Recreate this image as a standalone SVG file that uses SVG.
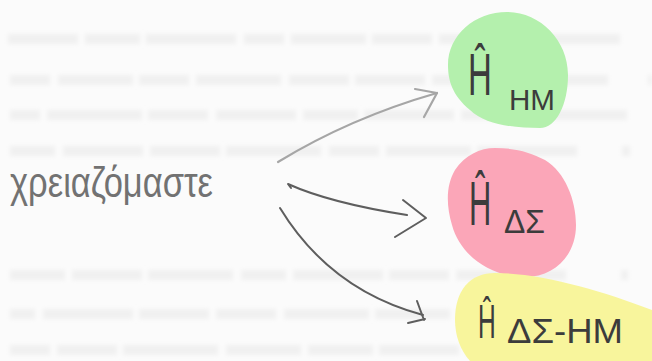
<svg xmlns="http://www.w3.org/2000/svg" width="652" height="361" viewBox="0 0 652 361">
  <defs>
    <filter id="soft" filterUnits="userSpaceOnUse" x="0" y="0" width="652" height="361">
      <feGaussianBlur stdDeviation="2"/>
    </filter>
    <style>
      .paper { fill: #fbfbfb; }
      .bleed { fill: none; stroke: #f0f0f0; stroke-width: 10; }
      .pencil { font-family: "Liberation Sans", "DejaVu Sans", sans-serif; }
      .word { fill: #727272; }
      .label { fill: #3c3c3c; }
      .light { fill: none; stroke: #a6a6a6; stroke-width: 2.2; stroke-linecap: round; stroke-linejoin: round; }
      .dark { fill: none; stroke: #5e5e5e; stroke-width: 2; stroke-linecap: round; stroke-linejoin: round; }
    </style>
  </defs>

  <!-- paper with faint lines from the reverse side -->
  <rect class="paper" x="0" y="0" width="652" height="361"/>
  <g id="reverse-side" filter="url(#soft)">
    <path class="bleed" d="M8,39 H652" stroke-dasharray="70 7 55 6 90 8 40 7 75 6 60 7 95 6 80"/>
    <path class="bleed" d="M10,80 H652" stroke-dasharray="40 8 75 6 50 7 85 8 60 6 70 7 90 6 80"/>
    <path class="bleed" d="M10,115 H652" stroke-dasharray="30 7 95 6 60 8 80 7 55 6 90 7 70 6 90"/>
    <path class="bleed" d="M10,151 H652" stroke-dasharray="45 8 80 7 70 6 95 8 50 7 85 6 100"/>
    <path class="bleed" d="M10,275 H652" stroke-dasharray="55 7 70 6 85 8 45 7 90 6 60 7 110"/>
    <path class="bleed" d="M10,314 H652" stroke-dasharray="25 8 90 6 70 7 60 8 85 6 75 7 110"/>
    <path class="bleed" d="M10,350 H652" stroke-dasharray="40 7 60 6 95 8 75 7 65 6 80 7 110"/>
  </g>

  <!-- source word -->
  <g id="source">
    <text class="pencil word" x="10" y="197" font-size="42" textLength="203" lengthAdjust="spacingAndGlyphs">χρειαζόμαστε</text>
  </g>

  <!-- highlighted targets: a narrow Ĥ (scaled horizontally) plus its subscript -->
  <g id="node-hm">
    <path fill="#b4f0ad" d="M507,12 C540,12 568,40 568,75 C568,105 556,128 540,128 C515,128 485,125 470,110 C452,95 448,80 448,65 C448,35 475,12 507,12 Z"/>
    <text class="pencil label" font-size="60" transform="translate(468,95) scale(0.55,1)">Ĥ</text>
    <text class="pencil label" x="509" y="110" font-size="30" textLength="46" lengthAdjust="spacingAndGlyphs">ΗΜ</text>
  </g>

  <g id="node-ds">
    <path fill="#fba6b8" d="M495,148 C515,148 530,152 545,160 C565,172 576,200 576,225 C576,255 555,277 525,277 C490,277 460,255 452,225 C446,205 446,185 455,170 C465,155 480,148 495,148 Z"/>
    <text class="pencil label" font-size="63" transform="translate(469,225) scale(0.49,1)">Ĥ</text>
    <text class="pencil label" x="504" y="233" font-size="34" textLength="41" lengthAdjust="spacingAndGlyphs">ΔΣ</text>
  </g>

  <g id="node-ds-hm">
    <path fill="#f8f59c" d="M455,320 C455,290 470,273 495,273 C540,273 600,290 652,310 L652,361 L470,361 C460,350 455,335 455,320 Z"/>
    <text class="pencil label" font-size="49" transform="translate(478,338) scale(0.5,1)">Ĥ</text>
    <text class="pencil label" x="507" y="343" font-size="35" textLength="116" lengthAdjust="spacingAndGlyphs">ΔΣ-ΗΜ</text>
  </g>

  <!-- hand-drawn arrows -->
  <g id="connectors">
    <path class="light" d="M278,162 Q350,118 437,93"/>
    <path class="light" d="M415,89 L437,93 L424,117"/>

    <path class="dark" d="M291,188 L288,184 Q330,203 407,215"/>
    <path class="dark" d="M403,200 L426,218 L395,237"/>

    <path class="dark" d="M280,208 Q330,290 423,315"/>
    <path class="dark" d="M417,301 Q421,312 424,320 M408,323 L425,319"/>
  </g>
</svg>
